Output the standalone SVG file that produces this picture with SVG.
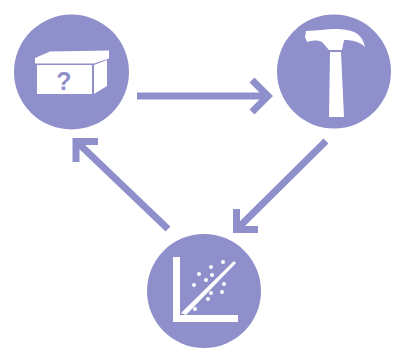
<svg xmlns="http://www.w3.org/2000/svg" width="404" height="358" viewBox="0 0 404 358">
<style>
.c{fill:#8f8fcb}
.w{fill:#fff}
.a{fill:none;stroke:#8f8fcb;stroke-width:7}
text{font-family:"Liberation Sans",Arial,sans-serif;font-weight:700;font-size:25px;fill:#8f8fcb;text-anchor:middle}
</style>
<rect width="404" height="358" fill="#fff"/>
<g id="connectors">
<path class="a" d="M137 96H267"/><path class="a" d="M252 80L268 96L252 112"/>
<path class="a" d="M326 141L238 228"/><path class="a" d="M236.500 209V229.500H258"/>
<path class="a" d="M168 229L78 143"/><path class="a" d="M76 162V141.500H98"/>
</g>
<g id="box">
<circle class="c" cx="71.500" cy="72" r="57.500"/>
<path class="w" d="M35 58L50 51.500L109 50.500V58.500L94 63.500H35Z"/>
<rect class="w" x="37" y="65" width="55" height="29"/>
<path class="w" d="M94 65L107 60V86L94 94Z"/>
<text x="64" y="90">?</text>
</g>
<g id="hammer">
<circle class="c" cx="334" cy="71.500" r="57"/>
<path class="w" d="M306 31L322 30C334 28 349 29 356 33C362 37 364 42 365 47C359 41 351 40 344 40L342 50H329L322 42C315 39 311 41 307 42L305 37Z"/>
<path class="w" d="M330 52H341L344 117H329Z"/>
</g>
<g id="scatter">
<circle class="c" cx="204" cy="291" r="57"/>
<path class="w" d="M173 257H180V315H238V322H173Z"/>
<path class="w" d="M181 313L234 261L236 263L186 315Z"/>
<g class="w">
<circle cx="223" cy="262" r="2"/><circle cx="211" cy="267" r="2"/><circle cx="199" cy="274" r="2"/>
<circle cx="212" cy="275" r="2"/><circle cx="206" cy="280" r="2"/><circle cx="194" cy="285" r="2"/>
<circle cx="224" cy="284" r="2"/><circle cx="222" cy="292" r="2"/><circle cx="211" cy="293" r="2"/>
<circle cx="208" cy="299" r="2"/><circle cx="195" cy="309" r="2"/>
</g>
</g>
</svg>
